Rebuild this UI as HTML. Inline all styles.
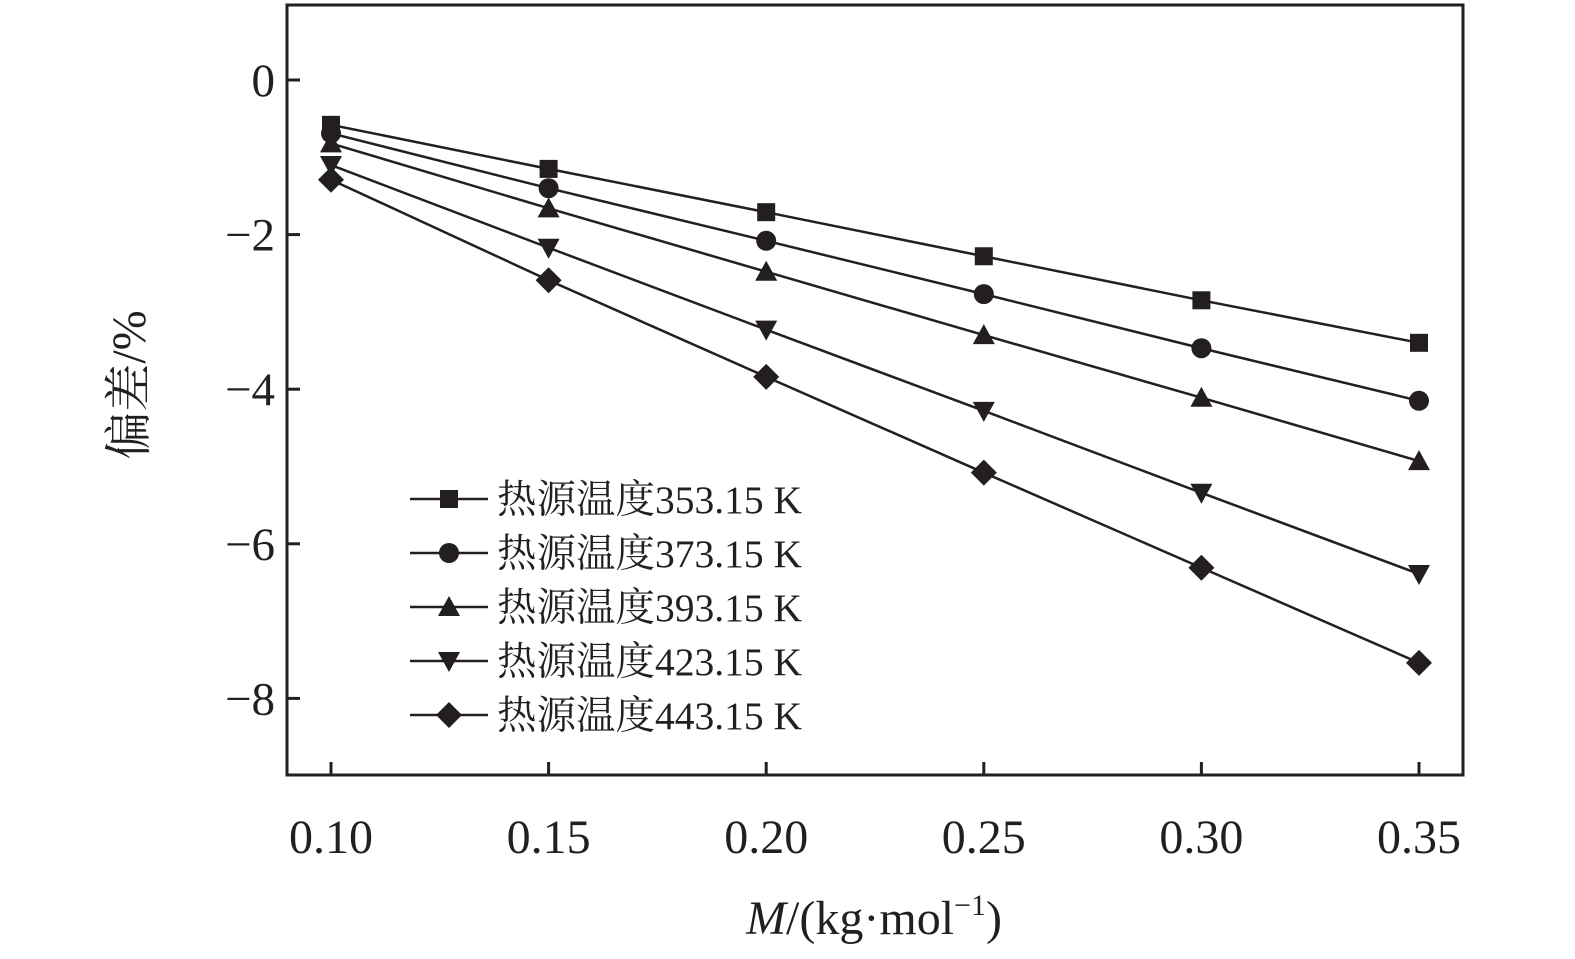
<!DOCTYPE html>
<html><head><meta charset="utf-8"><style>
html,body{margin:0;padding:0;background:#fff;}
svg{display:block;}
text{font-family:"Liberation Serif","Noto Serif CJK SC",serif;fill:#231f20;}
</style></head><body>
<svg id="chart" width="1575" height="959" viewBox="0 0 1575 959"></svg>
<script>
const categories=[0.10,0.15,0.20,0.25,0.30,0.35];
const seriesNames=["热源温度353.15 K","热源温度373.15 K","热源温度393.15 K","热源温度423.15 K","热源温度443.15 K"];
const s353=[-0.58,-1.15,-1.71,-2.28,-2.85,-3.40];
const s373=[-0.69,-1.40,-2.08,-2.77,-3.47,-4.15];
const s393=[-0.82,-1.66,-2.48,-3.30,-4.11,-4.93];
const s423=[-1.10,-2.17,-3.23,-4.28,-5.34,-6.39];
const s443=[-1.29,-2.59,-3.84,-5.08,-6.31,-7.54];
const yTicks=[0,-2,-4,-6,-8];
const yTickLabels=["0","\u22122","\u22124","\u22126","\u22128"];
const xTickLabels=["0.10","0.15","0.20","0.25","0.30","0.35"];
const markers=["square","circle","triangle","tri-down","diamond"];
const series=[s353,s373,s393,s423,s443];

const NS="http://www.w3.org/2000/svg";
const svg=document.getElementById('chart');
const L=287,R=1463,T=5,B=775;
function xs(v){return 331+(v-0.10)/0.25*(1419-331);}
function ys(v){return 80+(-v)*77.3;}
function mk(tag,attrs,parent){const e=document.createElementNS(NS,tag);for(const k in attrs)e.setAttribute(k,attrs[k]);(parent||svg).appendChild(e);return e;}
function marker(type,x,y,g){
  let e;
  if(type==="square")e=mk('rect',{x:x-9,y:y-9,width:18,height:18,fill:'#231f20'},g);
  else if(type==="circle")e=mk('circle',{cx:x,cy:y,r:10,fill:'#231f20'},g);
  else if(type==="triangle")e=mk('polygon',{points:`${x},${y-11} ${x+11},${y+9} ${x-11},${y+9}`,fill:'#231f20'},g);
  else if(type==="tri-down")e=mk('polygon',{points:`${x},${y+11} ${x+11},${y-9} ${x-11},${y-9}`,fill:'#231f20'},g);
  else e=mk('polygon',{points:`${x},${y-13} ${x+13},${y} ${x},${y+13} ${x-13},${y}`,fill:'#231f20'},g);
  return e;
}
const frame=mk('rect',{x:L,y:T,width:R-L,height:B-T,fill:'none',stroke:'#231f20','stroke-width':3});


yTicks.forEach((v,i)=>{
  const t=mk('line',{x1:L,x2:L+13,y1:ys(v),y2:ys(v),stroke:'#231f20','stroke-width':3});
  
  
  const tx=mk('text',{x:L-12,y:ys(v)+16,'text-anchor':'end','font-size':47});
  tx.textContent=yTickLabels[i];
  
  
});
categories.forEach((v,i)=>{
  const t=mk('line',{x1:xs(v),x2:xs(v),y1:B,y2:B-13,stroke:'#231f20','stroke-width':3});
  
  
  const tx=mk('text',{x:xs(v),y:853,'text-anchor':'middle','font-size':48});
  tx.textContent=xTickLabels[i];
  
  
});
series.forEach((s,si)=>{
  const g=mk('g',{});
  
  
  mk('polyline',{points:s.map((v,i)=>xs(categories[i])+','+ys(v)).join(' '),fill:'none',stroke:'#231f20','stroke-width':2.5},g);
  s.forEach((v,i)=>{const m=marker(markers[si],xs(categories[i]),ys(v),g);
    
    });
  const ly=499+si*54;
  const lg=mk('g',{},svg);
  
  
  mk('line',{x1:410,x2:488,y1:ly,y2:ly,stroke:'#231f20','stroke-width':2.5},lg);
  marker(markers[si],449,ly,lg);
  const t=mk('text',{x:497,y:ly+14,'font-size':39.5},lg);
  t.textContent=seriesNames[si];
});
const yl=mk('text',{x:0,y:0,'font-size':48,'text-anchor':'middle',transform:'translate(145,385) rotate(-90)'});
yl.textContent='偏差/%';


const xl=mk('text',{x:874,y:934,'font-size':48,'text-anchor':'middle'});
xl.innerHTML='<tspan font-style="italic">M</tspan>/(kg·mol<tspan font-size="30" dy="-19">−1</tspan><tspan dy="19">)</tspan>';


</script>
</body></html>
